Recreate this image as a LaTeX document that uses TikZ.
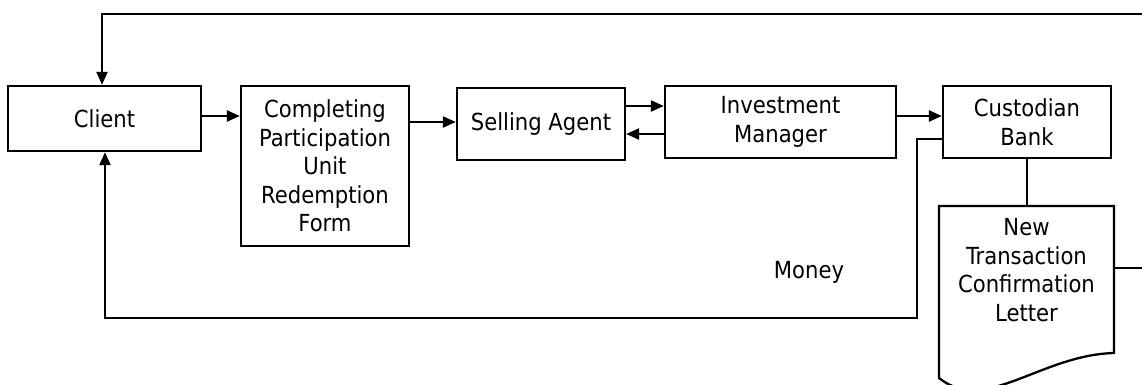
\documentclass[tikz,border=0pt]{standalone}
\usepackage{fontspec}
\setmainfont{DejaVu Sans Condensed}
\usetikzlibrary{arrows.meta}
\begin{document}
\begin{tikzpicture}[x=1pt,y=-1pt,
  txt/.style={align=center,inner sep=0pt,font=\fontsize{23.5}{28.5}\selectfont},
  box/.style={txt,draw,line width=2.3pt},
  conn/.style={line width=2.3pt},
  arr/.style={conn,-{Triangle[length=13pt,width=11pt]}}]
\useasboundingbox (0,0) rectangle (1142,385);

% process boxes
\node[box,minimum width=193pt,minimum height=65pt] (client) at (104.5,118.5) {Client};
\node[box,minimum width=168pt,minimum height=160pt] (form) at (325,166)
  {Completing\\Participation\\Unit\\Redemption\\Form};
\node[box,minimum width=168pt,minimum height=72pt] (agent) at (541,124) {Selling Agent};
\node[box,minimum width=231pt,minimum height=72pt] (manager) at (780.5,122) {Investment\\Manager};
\node[box,minimum width=168pt,minimum height=72pt] (bank) at (1027,122) {Custodian\\Bank};

% document shape with wavy bottom
\coordinate (dnw) at (939,206);
\coordinate (dne) at (1114,206);
\coordinate (dse) at (1114,353);
\coordinate (dsw) at (939,378);
\draw[conn] (dsw) -- (dnw) -- (dne) -- (dse)
  .. controls (1040,355) and (985,415) .. (dsw) -- cycle;
\node[txt] (doc) at (1026.5,270) {New\\Transaction\\Confirmation\\Letter};
\coordinate (docright) at (1114,268);

% free ends at the right margin
\coordinate (topright) at (1142,14);
\coordinate (edge) at (1142,268);

% money label
\node[txt] (money) at (809,272) {Money};

% flow connectors
\draw[arr] (client.east |- 0,116) -- (form.west |- 0,116);
\draw[arr] (form.east |- 0,122) -- (agent.west |- 0,122);
\draw[arr] (agent.east |- 0,106) -- (manager.west |- 0,106);
\draw[arr] (manager.west |- 0,134) -- (agent.east |- 0,134);
\draw[arr] (manager.east |- 0,116) -- (bank.west |- 0,116);
\draw[conn] (bank.south) -- (bank.south |- dnw);
\draw[conn] (docright) -- (edge);
\draw[arr] (bank.west |- 0,139) -- (917,139) -- (917,318) -- (105,318) -- (105,0 |- client.south);
\draw[arr] (topright) -- (102,14) -- (102,0 |- client.north);
\end{tikzpicture}
\end{document}
